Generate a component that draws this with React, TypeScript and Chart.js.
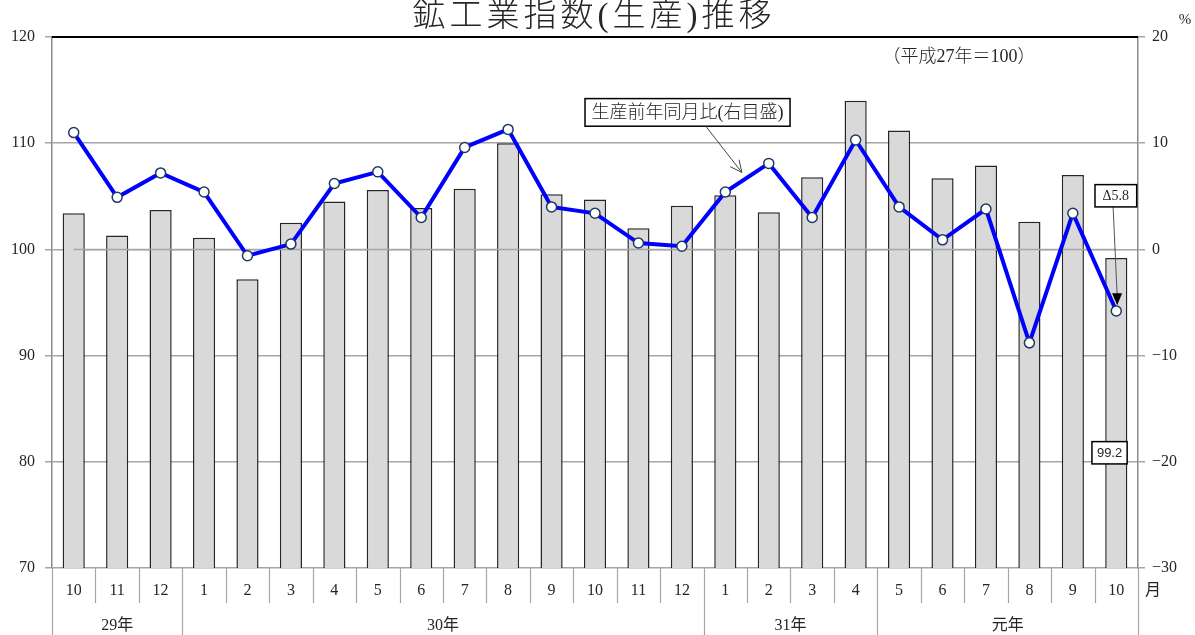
import React, { useEffect, useRef } from "react";
import { Chart, registerables } from "chart.js";

Chart.register(...registerables);

// ---- data ----
const monthLabels = ["10", "11", "12", "1", "2", "3", "4", "5", "6", "7", "8", "9", "10", "11", "12", "1", "2", "3", "4", "5", "6", "7", "8", "9", "10"];
const yearLabels = ["29年", "30年", "31年", "元年"];
const yearSpans = [3, 12, 4, 6];
const indexValues = [103.4, 101.3, 103.7, 101.1, 97.2, 102.5, 104.5, 105.6, 103.9, 105.7, 110.0, 105.2, 104.7, 102.0, 104.1, 105.1, 103.5, 106.8, 114.0, 111.2, 106.7, 107.9, 102.6, 107.0, 99.2];
const yoyValues = [11.0, 4.9, 7.2, 5.4, -0.6, 0.5, 6.2, 7.3, 3.0, 9.6, 11.3, 4.0, 3.4, 0.6, 0.3, 5.4, 8.1, 3.0, 10.3, 4.0, 0.9, 3.8, -8.8, 3.4, -5.8];
const leftTicks = { min: 70, max: 120, step: 10 };
const rightTicks = { min: -30, max: 20, step: 10 };
const titleText = "鉱工業指数(生産)推移";
const baseNote = "（平成27年＝100）";
const seriesNote = "生産前年同月比(右目盛)";
const lastYoyLabel = "Δ5.8";
const lastIndexLabel = "99.2";

const SERIF = "'Liberation Serif','DejaVu Serif','Noto Sans CJK JP',serif";
const SANS = "'Liberation Sans','Noto Sans CJK JP',sans-serif";
const TEXT = "#262626";
const GRID = "#a6a6a6";

function drawBox(ctx: CanvasRenderingContext2D, x1: number, y1: number, x2: number, y2: number, text: string, font: string) {
  ctx.save();
  ctx.fillStyle = "#ffffff";
  ctx.fillRect(x1, y1, x2 - x1, y2 - y1);
  ctx.strokeStyle = "#000";
  ctx.lineWidth = 1.5;
  ctx.strokeRect(x1, y1, x2 - x1, y2 - y1);
  ctx.fillStyle = TEXT;
  ctx.font = font;
  ctx.textAlign = "center";
  ctx.textBaseline = "middle";
  ctx.fillText(text, (x1 + x2) / 2, (y1 + y2) / 2 + 1);
  ctx.restore();
}

const overlay = {
  id: "overlay",
  beforeDatasetDraw(chart: any, args: any) {
    if (args.index !== 1) return;
    const { ctx } = chart;
    const xs = chart.scales.x;
    const y2 = chart.scales.y2;
    const y0 = y2.getPixelForValue(0);
    ctx.save();
    ctx.strokeStyle = GRID;
    ctx.lineWidth = 1.5;
    ctx.beginPath();
    ctx.moveTo(xs.getPixelForValue(0), y0);
    ctx.lineTo(xs.getPixelForValue(monthLabels.length - 1), y0);
    ctx.stroke();
    ctx.restore();
  },
  afterDraw(chart: any) {
    const { ctx, chartArea: a } = chart;
    const xs = chart.scales.x;
    const ys = chart.scales.y;
    const y2 = chart.scales.y2;
    const H = chart.height;
    const n = monthLabels.length;

    ctx.save();
    // top border
    ctx.strokeStyle = "#000";
    ctx.lineWidth = 2;
    ctx.beginPath();
    ctx.moveTo(a.left, a.top);
    ctx.lineTo(a.right, a.top);
    ctx.stroke();

    // title
    ctx.fillStyle = TEXT;
    ctx.font = `300 33px ${SERIF}`;
    ctx.textAlign = "center";
    ctx.textBaseline = "middle";
    (ctx as any).letterSpacing = "4px";
    ctx.fillText(titleText, 594, 17);
    (ctx as any).letterSpacing = "0px";

    // % unit
    ctx.font = `15px ${SERIF}`;
    ctx.textAlign = "center";
    ctx.fillText("%", 1185, 20);

    // bottom category axis
    const monthY = a.bottom + 23;
    const yearY = a.bottom + 58;
    const yearBounds = new Set<number>();
    let acc = 0;
    yearBounds.add(0);
    yearSpans.forEach((s) => { acc += s; yearBounds.add(acc); });
    ctx.strokeStyle = GRID;
    ctx.lineWidth = 1.2;
    for (let i = 0; i <= n; i++) {
      const bx = Math.round(xs.getPixelForValue(i - 0.5)) + 0.5;
      ctx.beginPath();
      ctx.moveTo(bx, a.bottom);
      ctx.lineTo(bx, yearBounds.has(i) ? H : a.bottom + 35);
      ctx.stroke();
    }
    ctx.fillStyle = TEXT;
    ctx.font = `16px ${SERIF}`;
    ctx.textAlign = "center";
    ctx.textBaseline = "middle";
    monthLabels.forEach((m, i) => ctx.fillText(m, xs.getPixelForValue(i), monthY));
    ctx.fillText("月", xs.getPixelForValue(n - 0.5) + 15, monthY);
    acc = 0;
    yearLabels.forEach((yl, k) => {
      const start = acc;
      acc += yearSpans[k];
      const cx = (xs.getPixelForValue(start - 0.5) + xs.getPixelForValue(acc - 0.5)) / 2;
      ctx.fillText(yl, cx, yearY);
    });

    // base note
    ctx.font = `300 18px ${SERIF}`;
    ctx.textAlign = "left";
    ctx.fillText(baseNote, xs.getPixelForValue(18.62), ys.getPixelForValue(118.1));

    // series label box + arrow
    drawBox(ctx, xs.getPixelForValue(11.77), y2.getPixelForValue(14.2), xs.getPixelForValue(16.49), y2.getPixelForValue(11.6), seriesNote, `300 18px ${SERIF}`);
    const ax1 = xs.getPixelForValue(14.55), ay1 = y2.getPixelForValue(11.6);
    const ax2 = xs.getPixelForValue(15.38), ay2 = y2.getPixelForValue(7.25);
    ctx.strokeStyle = "#444";
    ctx.lineWidth = 1;
    ctx.beginPath();
    ctx.moveTo(ax1, ay1);
    ctx.lineTo(ax2, ay2);
    const ang = Math.atan2(ay2 - ay1, ax2 - ax1);
    const hl = 13;
    ctx.moveTo(ax2 - hl * Math.cos(ang - 0.45), ay2 - hl * Math.sin(ang - 0.45));
    ctx.lineTo(ax2, ay2);
    ctx.lineTo(ax2 - hl * Math.cos(ang + 0.45), ay2 - hl * Math.sin(ang + 0.45));
    ctx.stroke();

    // last yoy label with arrow
    const bx1 = xs.getPixelForValue(23.92), by1 = y2.getPixelForValue(4.6);
    const bx2 = xs.getPixelForValue(24.02), by2 = y2.getPixelForValue(-5.27);
    ctx.strokeStyle = "#555";
    ctx.lineWidth = 1;
    ctx.beginPath();
    ctx.moveTo(bx1, by1);
    ctx.lineTo(bx2, by2 - 10);
    ctx.stroke();
    ctx.fillStyle = "#000";
    ctx.beginPath();
    ctx.moveTo(bx2, by2);
    ctx.lineTo(bx2 - 5, by2 - 12);
    ctx.lineTo(bx2 + 5, by2 - 12);
    ctx.closePath();
    ctx.fill();
    drawBox(ctx, xs.getPixelForValue(23.51), y2.getPixelForValue(6.1), xs.getPixelForValue(24.47), y2.getPixelForValue(4.0), lastYoyLabel, `14px ${SERIF}`);

    // last index label
    drawBox(ctx, xs.getPixelForValue(23.44), ys.getPixelForValue(81.9), xs.getPixelForValue(24.25), ys.getPixelForValue(79.8), lastIndexLabel, `13px ${SANS}`);

    ctx.restore();
  },
};

export default function App() {
  const ref = useRef<HTMLCanvasElement | null>(null);
  useEffect(() => {
    document.body.style.margin = "0";
    const canvas = ref.current;
    if (!canvas) return;
    const chart = new Chart(canvas, {
      type: "bar",
      data: {
        labels: monthLabels.map((m, i) => `${m}#${i}`),
        datasets: [
          {
            type: "bar",
            data: indexValues,
            yAxisID: "y",
            backgroundColor: "#d9d9d9",
            borderColor: "#262626",
            borderWidth: 1.5,
            barPercentage: 0.51,
            categoryPercentage: 1,
            order: 2,
          } as any,
          {
            type: "line",
            data: yoyValues,
            yAxisID: "y2",
            borderColor: "#0000ff",
            borderWidth: 4,
            pointRadius: 5,
            pointBackgroundColor: "#ffffff",
            pointBorderColor: "#1f3864",
            pointBorderWidth: 1.5,
            tension: 0,
            order: 1,
          } as any,
        ],
      },
      options: {
        responsive: false,
        animation: false,
        layout: { padding: { top: 37, left: 0, right: 0, bottom: 0 } },
        plugins: { legend: { display: false }, tooltip: { enabled: false }, title: { display: false } },
        scales: {
          x: {
            display: true,
            offset: true,
            grid: { display: false },
            border: { display: false },
            ticks: { display: false },
            afterFit: (s: any) => { s.height = 67; },
          },
          y: {
            position: "left",
            min: leftTicks.min,
            max: leftTicks.max,
            ticks: { stepSize: leftTicks.step, padding: 10, color: TEXT, font: { family: SERIF, size: 16 } },
            grid: { color: GRID, lineWidth: 1.5, tickLength: 7 },
            border: { color: "#8c8c8c", width: 1.5 },
            afterFit: (s: any) => { s.width = 52; },
          },
          y2: {
            position: "right",
            min: rightTicks.min,
            max: rightTicks.max,
            ticks: {
              stepSize: rightTicks.step,
              padding: 7,
              color: TEXT,
              font: { family: SERIF, size: 16 },
              callback: (v: any) => String(v).replace("-", "−"),
            },
            grid: { drawOnChartArea: false, color: GRID, lineWidth: 1.5, tickLength: 7 },
            border: { color: "#8c8c8c", width: 1.5 },
            afterFit: (s: any) => { s.width = 57; },
          },
        },
      } as any,
      plugins: [overlay as any],
    });
    return () => chart.destroy();
  }, []);
  return (
    <div style={{ width: 1195, height: 635 }}>
      <canvas ref={ref} width={1195} height={635} style={{ display: "block" }} />
    </div>
  );
}
